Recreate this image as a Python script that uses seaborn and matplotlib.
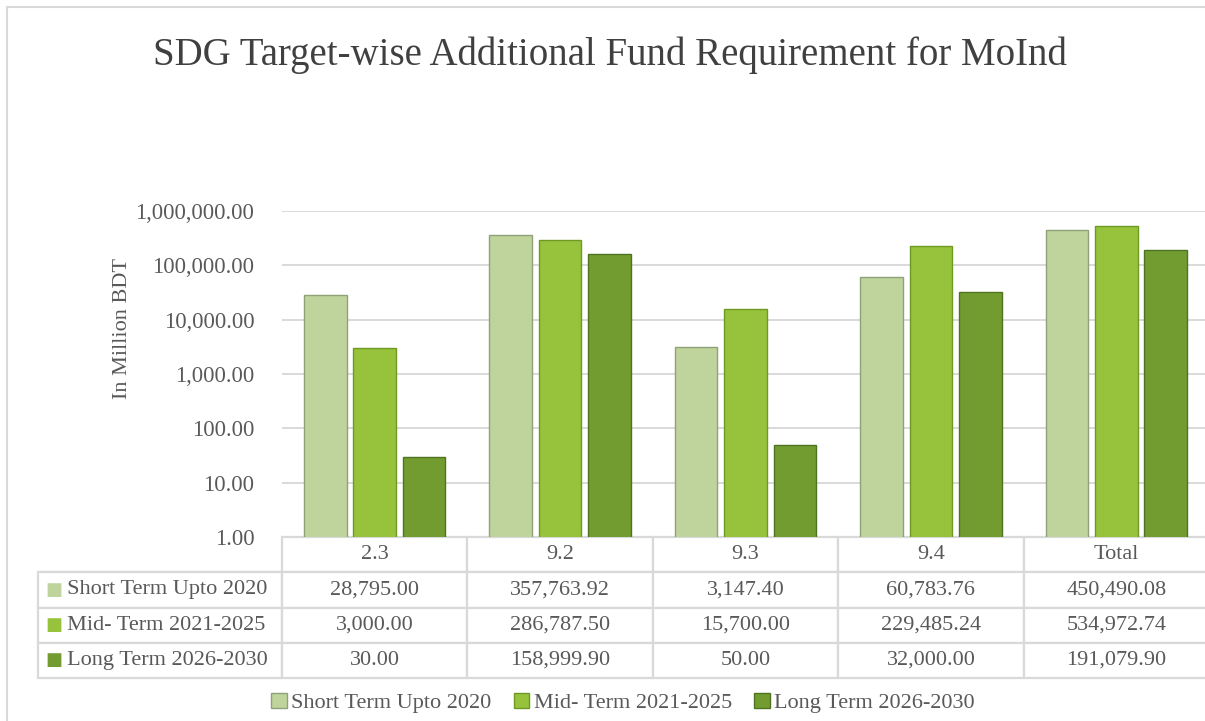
import numpy as np
import pandas as pd
import matplotlib
matplotlib.use("Agg")
import matplotlib.pyplot as plt
import seaborn as sns
from matplotlib.patches import Patch, Rectangle
from matplotlib.ticker import FuncFormatter, FixedLocator, NullLocator

# ---------------- data ----------------
targets = ["2.3", "9.2", "9.3", "9.4", "Total"]
series_names = ["Short Term Upto 2020", "Mid- Term 2021-2025", "Long Term 2026-2030"]
short_term = [28795.00, 357763.92, 3147.40, 60783.76, 450490.08]
mid_term = [3000.00, 286787.50, 15700.00, 229485.24, 534972.74]
long_term = [30.00, 158999.90, 50.00, 32000.00, 191079.90]
y_ticks = [1, 10, 100, 1000, 10000, 100000, 1000000]

colors = ["#bfd49c", "#96c33b", "#729c2f"]
edge_colors = ["#8fa176", "#6e9a24", "#4e7421"]
text_color = "#595959"
grid_color = "#d9d9d9"

rows = []
for name, vals in zip(series_names, [short_term, mid_term, long_term]):
    for t, v in zip(targets, vals):
        rows.append({"Target": t, "Series": name, "Value": v})
df = pd.DataFrame(rows)

sns.set_theme(style="white")
plt.rcParams["font.family"] = ["Liberation Serif", "DejaVu Sans"]

W, H = 1205, 721
fig = plt.figure(figsize=(W / 100, H / 100), dpi=100)
fig.patch.set_facecolor("white")

# chart border
fig.patches.append(Rectangle((7 / W, -0.1), 1.2, (H - 7) / H + 0.1,
                             transform=fig.transFigure, fill=False,
                             ec=grid_color, lw=1.5))

ax_left, ax_right, ax_top, ax_bottom = 282, 1209, 211, 537
ax = fig.add_axes([ax_left / W, 1 - ax_bottom / H,
                   (ax_right - ax_left) / W, (ax_bottom - ax_top) / H])

sns.barplot(data=df, x="Target", y="Value", hue="Series", order=targets,
            hue_order=series_names, palette=colors, width=0.8, gap=0.14,
            legend=False, ax=ax, saturation=1)
ax.set_yscale("log")

for i, cont in enumerate(ax.containers):
    for p in cont:
        p.set_edgecolor(edge_colors[i])
        p.set_linewidth(1.0)
        p.set_zorder(3)

ax.set_ylim(1, 1e6)
ax.set_xlim(-0.5, len(targets) - 0.5)
ax.yaxis.set_major_locator(FixedLocator(y_ticks))
ax.yaxis.set_minor_locator(NullLocator())
ax.yaxis.set_major_formatter(FuncFormatter(lambda v, p: f"{v:,.2f}"))
ax.tick_params(axis="y", length=0, pad=20, labelsize=16.3, labelcolor=text_color)
ax.set_xticks(range(len(targets)))
ax.set_xticklabels([])
ax.tick_params(axis="x", length=0)
ax.set_xlabel("")
ax.set_ylabel("In Million BDT", fontsize=16, color=text_color)
ax.yaxis.set_label_coords(-0.162, 0.64)
ax.grid(axis="y", color=grid_color, lw=1.4, zorder=0)
ax.set_axisbelow(True)
for s in ax.spines.values():
    s.set_visible(False)

# title
fig.text(0.506, 1 - 55 / H, "SDG Target-wise Additional Fund Requirement for MoInd",
         ha="center", va="center", fontsize=28, color="#404040")

# ---------------- data table ----------------
ax_w = ax_right - ax_left
ax_h = ax_bottom - ax_top
tbl_left, tbl_top, tbl_bottom = 38, 537, 678
bbox = [(tbl_left - ax_left) / ax_w, (ax_bottom - tbl_bottom) / ax_h,
        (ax_right - tbl_left) / ax_w, (tbl_bottom - tbl_top) / ax_h]

cell_text = [["     " + name] + [f"{v:,.2f}" for v in vals]
             for name, vals in zip(series_names, [short_term, mid_term, long_term])]
tbl = ax.table(cellText=cell_text, colLabels=[""] + targets,
               cellLoc="center", bbox=bbox)
tbl.auto_set_font_size(False)
label_w = (ax_left - tbl_left)
col_w = ax_w / len(targets)
for (r, c), cell in tbl.get_celld().items():
    cell.set_edgecolor(grid_color)
    cell.set_linewidth(1.6)
    cell.get_text().set_fontsize(16)
    cell.get_text().set_color(text_color)
    cell.set_width(label_w if c == 0 else col_w)
    if c == 0:
        cell.get_text().set_horizontalalignment("left")
        cell.PAD = 0.005
        if r == 0:
            cell.visible_edges = "B"
            cell.set_edgecolor(grid_color)

# row-label colour keys
row_h = (tbl_bottom - tbl_top) / 4
for i, col in enumerate(colors):
    yc = tbl_top + row_h * (i + 1.5)
    ax.text((tbl_left + 16 - ax_left) / ax_w, (ax_bottom - yc) / ax_h, "■",
            color=col, fontsize=13, ha="center", va="center",
            family="DejaVu Sans", transform=ax.transAxes, clip_on=False)

# legend
handles = [Patch(facecolor=c, edgecolor=e, label=n)
           for c, e, n in zip(colors, edge_colors, series_names)]
leg = fig.legend(handles=handles, loc="center", bbox_to_anchor=(0.517, 1 - 703 / H),
                 ncol=3, frameon=False, fontsize=16, handlelength=0.7,
                 handleheight=0.7, handletextpad=0.2, columnspacing=1.0)
for t in leg.get_texts():
    t.set_color(text_color)

fig.savefig("out.png", dpi=100, facecolor="white")
